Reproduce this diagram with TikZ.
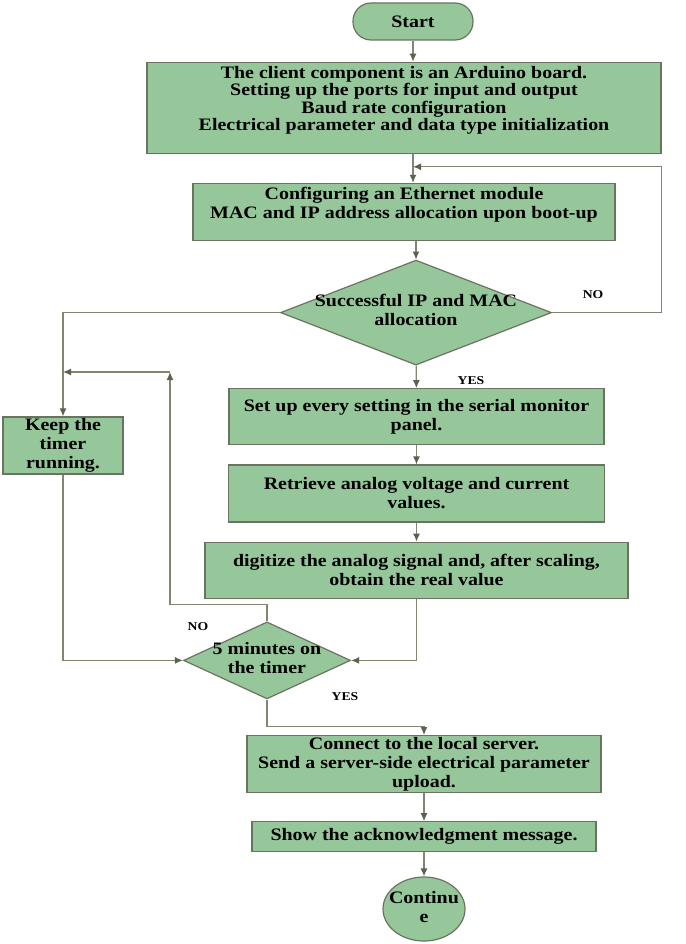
\documentclass[tikz,border=0pt]{standalone}
\usepackage{fontspec}
\setmainfont[FakeStretch=1.14]{Liberation Serif}
\usepackage{tikz}
\usetikzlibrary{shapes.geometric, arrows.meta, positioning}
\definecolor{boxfill}{RGB}{150,199,155}
\definecolor{boxedge}{RGB}{108,114,96}
\definecolor{flowline}{RGB}{128,134,112}
\definecolor{tipcolor}{RGB}{92,98,78}
\newcommand{\ctext}[1]{\makebox[0pt]{\begin{tabular}{@{}c@{}}#1\end{tabular}}}
\tikzset{
    procbox/.style={rectangle, draw=boxedge, fill=boxfill, line width=1.2pt, inner xsep=2pt, inner ysep=1pt, align=center, font=\bfseries\fontsize{17.5}{19}\selectfont},
    terminal/.style={procbox, rounded corners=18pt, minimum width=120pt, minimum height=37pt},
    decision/.style={diamond, draw=boxedge, fill=boxfill, line width=1.2pt, inner sep=0pt, font=\bfseries\fontsize{17.5}{19}\selectfont},
    endpoint/.style={ellipse, draw=boxedge, fill=boxfill, line width=1.2pt, inner sep=0pt, font=\bfseries\fontsize{17.5}{19}\selectfont},
    flow/.style={draw=flowline, line width=1.2pt, -{Latex[length=8pt, width=7pt, color=tipcolor]}},
    answer/.style={font=\bfseries\fontsize{12}{14}\selectfont}
}

\begin{document}
\begin{tikzpicture}[x=1pt, y=1pt]
        \useasboundingbox (0,0) rectangle (685,-944);

        \node [terminal] (start) at (413,-21.5) {Start};

        \node [procbox, below=21pt of start, xshift=-9pt, minimum width=514pt, minimum height=91pt] (client) {The client component is an Arduino board.\\[-1.5pt]Setting up the ports for input and output\\[-1.5pt]Baud rate configuration\\[-1.5pt]Electrical parameter and data type initialization\\\mbox{}};

        \node [procbox, below=29pt of client, minimum width=422pt, minimum height=57pt] (ethernet) {Configuring an Ethernet module\\MAC and IP address allocation upon boot-up\\\mbox{}};

        \node [decision, below=18.5pt of ethernet, xshift=12pt, minimum width=271pt, minimum height=105pt] (ipcheck) {\ctext{Successful IP and MAC\\allocation}};

        \node [procbox, below=22.5pt of ipcheck, xshift=0.5pt, minimum width=375pt, minimum height=56pt] (serial) {Set up every setting in the serial monitor\\panel.};

        \node [procbox, below=19pt of serial, minimum width=376pt, minimum height=57pt] (retrieve) {Retrieve analog voltage and current\\values.};

        \node [procbox, below=19pt of retrieve, minimum width=423pt, minimum height=56pt] (digitize) {digitize the analog signal and, after scaling,\\obtain the real value};

        \node [decision, below=22.5pt of digitize, xshift=-149.5pt, minimum width=167pt, minimum height=77pt] (timer) {\ctext{5 minutes on\\the timer}};

        \node [procbox, inner ysep=0pt, minimum width=120pt, minimum height=57pt] (keep) at (63,-445.5) {Keep the\\timer\\running.};

        \node [procbox, below=35.5pt of timer, xshift=157pt, minimum width=354pt, minimum height=57pt] (upload) {Connect to the local server.\\Send a server-side electrical parameter\\upload.};

        \node [procbox, below=28pt of upload, minimum width=344pt, minimum height=30pt] (ack) {Show the acknowledgment message.};

        \node [endpoint, below=24pt of ack, minimum width=82pt, minimum height=64pt] (cont) {\ctext{Continu\\e}};

        % Paths
        \coordinate (loopin) at ([yshift=-13pt]start.south |- client.south);
        \coordinate (noup) at (170,-372);

        \draw [flow] (start) -- (start |- client.north);
        \draw [flow] (start.south |- client.south) -- (start.south |- ethernet.north);
        \draw [flow] (ethernet.south -| ipcheck) -- (ipcheck);
        \draw [flow] (ipcheck.east) -- ++(109pt,0) |- (loopin);
        \draw [flow] (ipcheck) -- (serial);
        \draw [flow] (ipcheck.west) -| (keep.north);
        \draw [flow] (serial) -- (retrieve);
        \draw [flow] (retrieve) -- (digitize);
        \draw [flow] (digitize.south) |- (timer.east);
        \draw [flow] (keep.south) |- (timer.west);
        \draw [flow] (timer.north) -- ++(0,17pt) -| (noup);
        \draw [flow] (noup) -- (noup -| keep.north);
        \draw [flow] (timer.south) -- ++(0,-27pt) -| (upload.north);
        \draw [flow] (upload) -- (ack);
        \draw [flow] (ack) -- (cont);

        % Answers
        \node [answer] (nomac) at ([xshift=41pt, yshift=18pt]ipcheck.east) {NO};
        \node [answer] (yesmac) at ([xshift=55pt, yshift=-15pt]ipcheck.south) {YES};
        \node [answer] (notimer) at ([xshift=-69pt, yshift=-5pt]timer.north) {NO};
        \node [answer] (yestimer) at ([xshift=78pt, yshift=3pt]timer.south) {YES};

    \end{tikzpicture}
\end{document}
